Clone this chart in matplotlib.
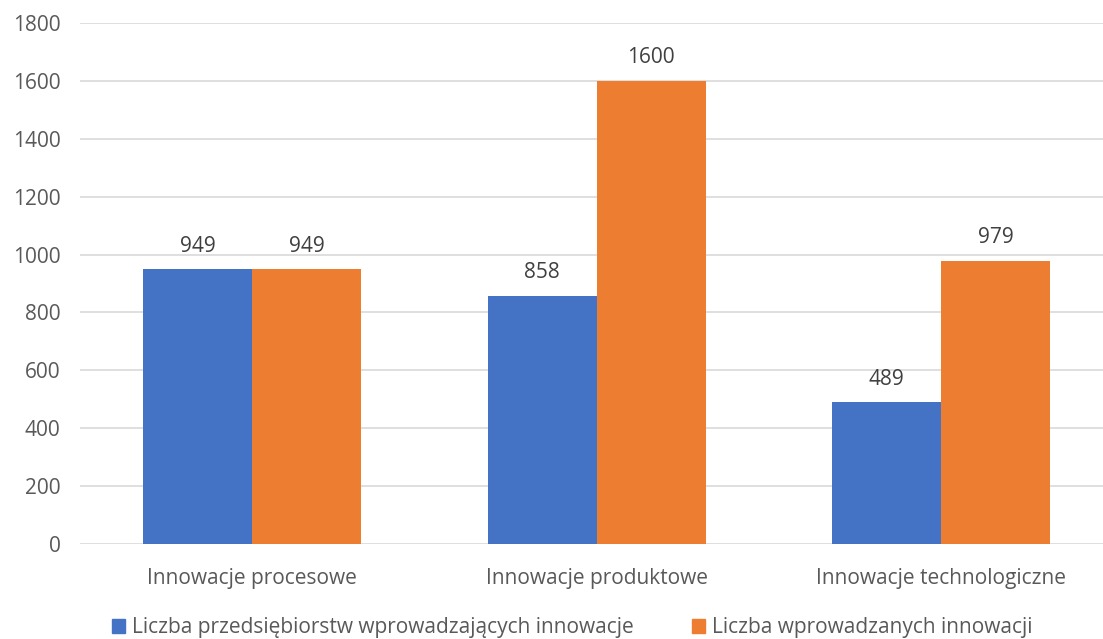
import matplotlib
matplotlib.use("Agg")
import matplotlib.pyplot as plt
import numpy as np

categories = ["Innowacje procesowe", "Innowacje produktowe", "Innowacje technologiczne"]
series_names = ["Liczba przedsiębiorstw wprowadzających innowacje", "Liczba wprowadzanych innowacji"]
firms = [949, 858, 489]
innovations = [949, 1600, 979]
yticks = [0, 200, 400, 600, 800, 1000, 1200, 1400, 1600, 1800]

W, H = 1103, 639
fig = plt.figure(figsize=(W/100, H/100), dpi=100)
ax = fig.add_axes([80/W, 1-544/H, 1-80/W, (544-23)/H])
plt.rcParams['font.family'] = ['Open Sans', 'DejaVu Sans']
fam = ['Open Sans', 'DejaVu Sans']
fs = 15
txt = '#595959'
blue = '#4472C4'
orange = '#ED7D31'

x = np.arange(len(categories))
bw = 109/344.5
b1 = ax.bar(x - bw/2, firms, bw, color=blue, zorder=3)
b2 = ax.bar(x + bw/2, innovations, bw, color=orange, zorder=3)
for bars in (b1, b2):
    for r in bars:
        ax.annotate(f"{int(r.get_height())}", (r.get_x()+r.get_width()/2, r.get_height()),
                    xytext=(0, 9), textcoords='offset points', ha='center', va='bottom',
                    fontsize=fs, color='#404040', family=fam)

ax.set_xlim(-0.5, -0.5 + (W-80)/344.5)
ax.set_ylim(0, 1800)
ax.set_yticks(yticks)
ax.set_yticklabels([str(v) for v in yticks], fontsize=fs, color=txt, family=fam)
ax.set_xticks(x)
ax.set_xticklabels(categories, fontsize=fs, color=txt, family=fam)
ax.tick_params(axis='both', length=0)
ax.tick_params(axis='y', pad=14)
ax.tick_params(axis='x', pad=17)
ax.yaxis.grid(True, color='#D9D9D9', linewidth=1.2, zorder=0)
ax.set_axisbelow(True)
for s in ax.spines.values():
    s.set_visible(False)

from matplotlib.patches import Patch
handles = [Patch(color=blue), Patch(color=orange)]
leg = fig.legend(handles, series_names, loc='center', bbox_to_anchor=(572/W, 1-628/H), ncol=2,
                 frameon=False, handlelength=0.63, handleheight=0.63,
                 handletextpad=0.34, columnspacing=2.8, borderpad=0, prop={'family': fam, 'size': fs})
for t in leg.get_texts():
    t.set_color(txt)

fig.savefig("out.png", dpi=100)
